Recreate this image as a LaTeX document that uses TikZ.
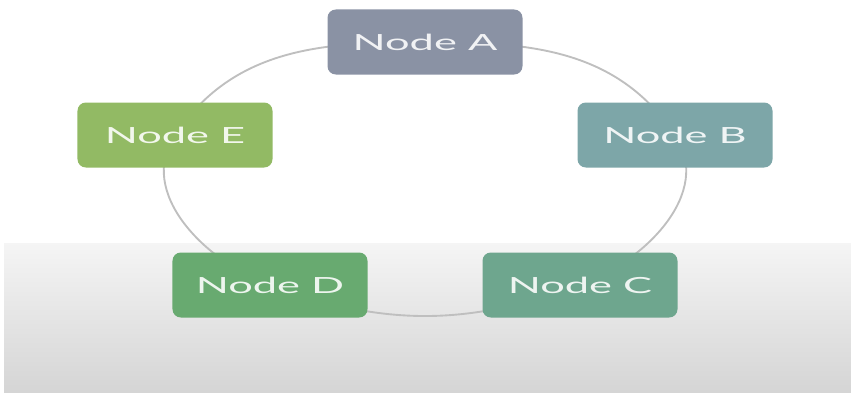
\documentclass[tikz,border=0pt]{standalone}
\usepackage{fontspec}
\setmainfont{Lato}
\usepackage{graphicx}
\usepackage{tikz}
\usetikzlibrary{shapes,arrows}

\definecolor{nodeA}{RGB}{138,146,164}
\definecolor{nodeB}{RGB}{125,166,168}
\definecolor{nodeC}{RGB}{110,166,142}
\definecolor{nodeD}{RGB}{104,170,112}
\definecolor{nodeE}{RGB}{146,186,100}

\pgfdeclarelayer{back}
\pgfdeclarelayer{ringlayer}
\pgfsetlayers{back,ringlayer,main}

\newcommand{\boxlabel}[1]{\scalebox{1.95}[1]{\fontsize{19}{19}\selectfont #1}}

\begin{document}
\begin{tikzpicture}[x=0.03cm, y=-0.03cm,
  box/.style={fill=#1, text=#1!12!white, rounded corners=0.25cm,
    minimum width=5.85cm, minimum height=1.95cm, inner sep=0pt},
  link/.style={draw=gray!50, line width=1.6pt}]
  \useasboundingbox (0,0) rectangle (851,392);
  \begin{pgfonlayer}{back}
    \shade[top color=gray!8, bottom color=gray!33] (4,243) rectangle (851,392);
  \end{pgfonlayer}

  \node[box=nodeA] (A) at (425,42) {\boxlabel{Node A}};
  \node[box=nodeB] (B) at (675,135) {\boxlabel{Node B}};
  \node[box=nodeC] (C) at (580,285) {\boxlabel{Node C}};
  \node[box=nodeD] (D) at (270,285) {\boxlabel{Node D}};
  \node[box=nodeE] (E) at (175,135) {\boxlabel{Node E}};

  % ring behind the boxes
  \begin{pgfonlayer}{ringlayer}
    \draw[link] (A.center) to[out=0,in=124] (B.center)
      to[out=-56,in=20] (C.center)
      to[out=200,in=-20] (D.center)
      to[out=160,in=-124] (E.center)
      to[out=56,in=180] (A.center);
  \end{pgfonlayer}
\end{tikzpicture}
\end{document}
